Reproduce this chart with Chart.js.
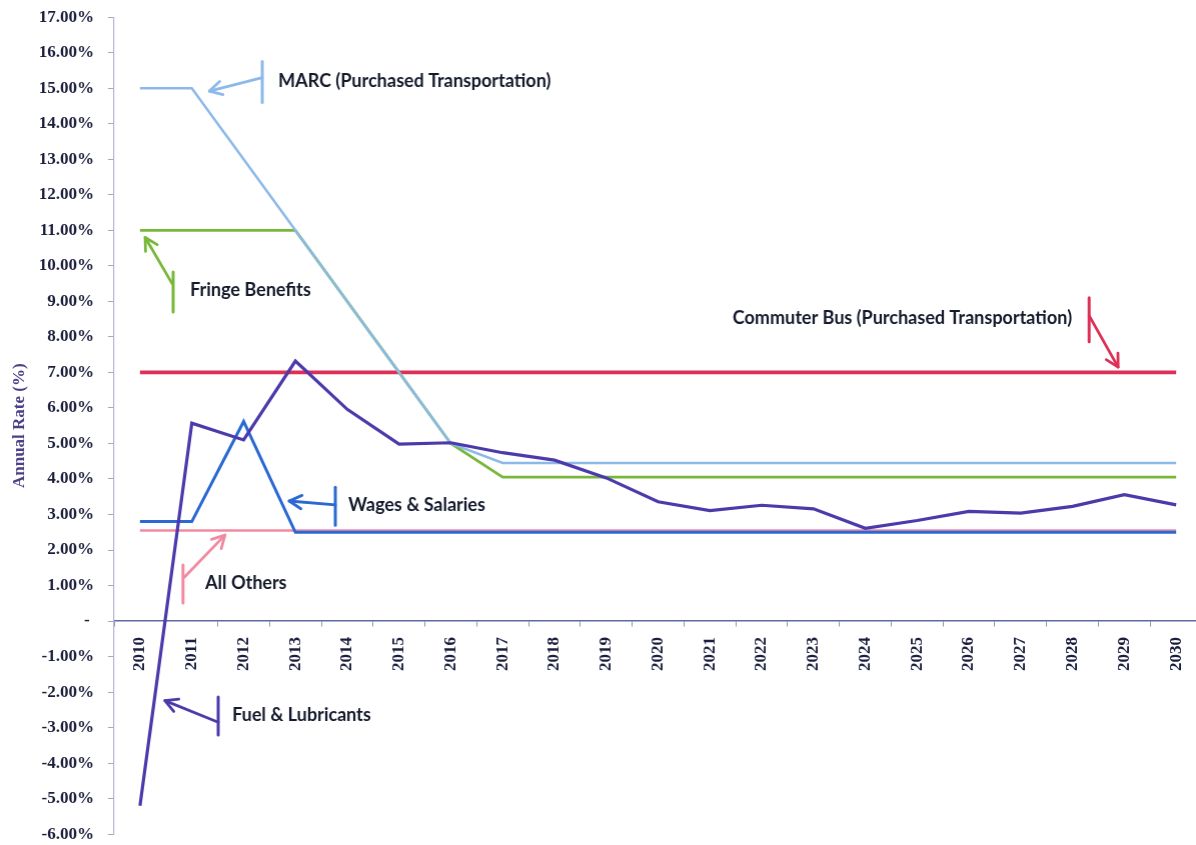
<!DOCTYPE html>
<html>
<head>
<meta charset="utf-8">
<script src="https://cdn.jsdelivr.net/npm/chart.js@4"></script>
<style>
  html, body { margin: 0; padding: 0; background: #ffffff; overflow: hidden; width: 1196px; height: 845px; }
  #wrap { position: relative; width: 1202px; height: 845px; }
</style>
</head>
<body>
<div id="wrap"><canvas id="chart"></canvas></div>
<script>
// Annual escalation rates by cost category, 2010-2030
const years = ['2010','2011','2012','2013','2014','2015','2016','2017','2018','2019','2020',
               '2021','2022','2023','2024','2025','2026','2027','2028','2029','2030'];

const marc        = [15, 15, 13, 11, 9, 7, 5, 4.45, 4.45, 4.45, 4.45, 4.45, 4.45, 4.45, 4.45, 4.45, 4.45, 4.45, 4.45, 4.45, 4.45];
const fringe      = [11, 11, 11, 11, 9, 7, 5, 4.05, 4.05, 4.05, 4.05, 4.05, 4.05, 4.05, 4.05, 4.05, 4.05, 4.05, 4.05, 4.05, 4.05];
const commuterBus = [7, 7, 7, 7, 7, 7, 7, 7, 7, 7, 7, 7, 7, 7, 7, 7, 7, 7, 7, 7, 7];
const wages       = [2.8, 2.8, 5.62, 2.5, 2.5, 2.5, 2.5, 2.5, 2.5, 2.5, 2.5, 2.5, 2.5, 2.5, 2.5, 2.5, 2.5, 2.5, 2.5, 2.5, 2.5];
const allOthers   = [2.55, 2.55, 2.55, 2.55, 2.55, 2.55, 2.55, 2.55, 2.55, 2.55, 2.55, 2.55, 2.55, 2.55, 2.55, 2.55, 2.55, 2.55, 2.55, 2.55, 2.55];
const fuel        = [-5.2, 5.57, 5.1, 7.32, 5.96, 4.98, 5.02, 4.74, 4.53, 4.03, 3.36, 3.11, 3.26, 3.16, 2.61, 2.83, 3.09, 3.04, 3.23, 3.56, 3.27];

const yMin = -6, yMax = 17;

// Target plot box inside the 1196x845 page
const PLOT = { left: 114, top: 17, right: 1201, bottom: 834 };

const COLORS = {
  marc: '#8cb9ea',
  fringe: '#77b83a',
  bus: '#de2f56',
  wages: '#2a68d2',
  others: '#f28aa1',
  fuel: '#4c3aab'
};

// Callout labels with arrows, placed in data space (category index, value)
const callouts = [
  { text: 'MARC (Purchased Transportation)', color: COLORS.marc,
    label: [2.67, 15.2], bar: [2.36, 15.75, 14.6], from: [2.36, 15.3], to: [1.34, 14.92] },
  { text: 'Fringe Benefits', color: COLORS.fringe,
    label: [0.97, 9.32], bar: [0.64, 9.83, 8.7], from: [0.62, 9.5], to: [0.1, 10.8] },
  { text: 'Commuter Bus (Purchased Transportation)', color: COLORS.bus,
    label: [11.44, 8.54], bar: [18.32, 9.1, 7.86], from: [18.32, 8.6], to: [18.88, 7.15] },
  { text: 'Wages & Salaries', color: COLORS.wages,
    label: [4.02, 3.27], bar: [3.77, 3.77, 2.7], from: [3.77, 3.27], to: [2.88, 3.38] },
  { text: 'All Others', color: COLORS.others,
    label: [1.26, 1.07], bar: [0.83, 1.58, 0.51], from: [0.86, 1.24], to: [1.64, 2.42] },
  { text: 'Fuel & Lubricants', color: COLORS.fuel,
    label: [1.78, -2.65], bar: [1.51, -2.14, -3.21], from: [1.51, -2.85], to: [0.48, -2.24] }
];

const calloutPlugin = {
  id: 'callouts',
  afterDatasetsDraw(chart) {
    const ctx = chart.ctx;
    const xs = chart.scales.x, ys = chart.scales.y;
    const px = i => xs.getPixelForDecimal((i + 0.5) / years.length);
    const py = v => ys.getPixelForValue(v);
    ctx.save();
    ctx.lineCap = 'round';
    ctx.lineJoin = 'round';
    callouts.forEach(c => {
      ctx.strokeStyle = c.color;
      ctx.lineWidth = 3;
      // tail bar
      ctx.beginPath();
      ctx.moveTo(px(c.bar[0]), py(c.bar[1]));
      ctx.lineTo(px(c.bar[0]), py(c.bar[2]));
      ctx.stroke();
      // shaft
      const x1 = px(c.from[0]), y1 = py(c.from[1]);
      const x2 = px(c.to[0]), y2 = py(c.to[1]);
      ctx.lineWidth = 2.8;
      ctx.beginPath();
      ctx.moveTo(x1, y1);
      ctx.lineTo(x2, y2);
      ctx.stroke();
      // open arrow head
      const ang = Math.atan2(y2 - y1, x2 - x1);
      const len = 14, spread = 0.5;
      ctx.beginPath();
      ctx.moveTo(x2 - len * Math.cos(ang - spread), y2 - len * Math.sin(ang - spread));
      ctx.lineTo(x2, y2);
      ctx.lineTo(x2 - len * Math.cos(ang + spread), y2 - len * Math.sin(ang + spread));
      ctx.stroke();
      // label text
      ctx.fillStyle = '#141a2c';
      ctx.font = 'bold 18px Lato';
      ctx.textAlign = 'left';
      ctx.textBaseline = 'middle';
      ctx.fillText(c.text, px(c.label[0]), py(c.label[1]));
    });
    ctx.restore();
  }
};

const lineDs = (label, data, color, width, order) => ({
  label, data,
  borderColor: color,
  backgroundColor: color,
  borderWidth: width,
  pointRadius: 0,
  tension: 0,
  fill: false,
  order
});

const wrap = document.getElementById('wrap');

const chart = new Chart(document.getElementById('chart'), {
  type: 'line',
  data: {
    labels: years,
    datasets: [
      lineDs('Fuel & Lubricants', fuel, COLORS.fuel, 3.2, 0),
      lineDs('Wages & Salaries', wages, COLORS.wages, 3, 1),
      lineDs('MARC (Purchased Transportation)', marc, COLORS.marc, 2.5, 2),
      lineDs('Fringe Benefits', fringe, COLORS.fringe, 2.8, 3),
      lineDs('Commuter Bus (Purchased Transportation)', commuterBus, COLORS.bus, 3.6, 4),
      lineDs('All Others', allOthers, COLORS.others, 2.6, 5)
    ]
  },
  options: {
    responsive: true,
    maintainAspectRatio: false,
    animation: false,
    layout: { padding: { top: 17, bottom: 11, left: 0, right: 0 } },
    plugins: {
      legend: { display: false },
      tooltip: { enabled: false }
    },
    scales: {
      x: {
        type: 'category',
        offset: true,
        position: { y: 0 },
        grid: {
          display: true,
          drawOnChartArea: false,
          drawTicks: true,
          tickLength: 5,
          color: '#8d92b4',
          offset: true
        },
        border: { display: true, color: '#5d6aa6', width: 1.5 },
        ticks: {
          autoSkip: false,
          maxRotation: 90,
          minRotation: 90,
          padding: 11,
          color: '#1b1f3f',
          font: { family: 'Liberation Serif', weight: 'bold', size: 17 }
        }
      },
      y: {
        min: yMin,
        max: yMax,
        afterFit(scale) { scale.width = PLOT.left; },
        grid: {
          display: true,
          drawOnChartArea: false,
          drawTicks: true,
          tickLength: 6,
          color: '#aaa3c6'
        },
        border: { display: true, color: '#b7b1cf', width: 1.2 },
        title: {
          display: true,
          text: 'Annual Rate (%)',
          color: '#4c3f86',
          padding: { top: 9, bottom: 0 },
          font: { family: 'Liberation Serif', weight: 'bold', size: 17 }
        },
        ticks: {
          stepSize: 1,
          autoSkip: false,
          padding: 14,
          color: '#1c1f3b',
          font: { family: 'Liberation Serif', weight: 'bold', size: 17 },
          callback: v => (v === 0 ? '- ' : v.toFixed(2) + '%')
        }
      }
    }
  },
  plugins: [calloutPlugin]
});

// Stretch the canvas so the plot box lands on PLOT, then shift it into place
(function fitPlotBox() {
  const ca = chart.chartArea;
  const w = wrap.offsetWidth + (PLOT.right - PLOT.left) - (ca.right - ca.left);
  const h = wrap.offsetHeight + (PLOT.bottom - PLOT.top) - (ca.bottom - ca.top);
  wrap.style.width = w + 'px';
  wrap.style.height = h + 'px';
  chart.resize();
  const ca2 = chart.chartArea;
  wrap.style.marginTop = (PLOT.top - ca2.top) + 'px';
  wrap.style.marginLeft = (PLOT.left - ca2.left) + 'px';
})();
</script>
</body>
</html>
